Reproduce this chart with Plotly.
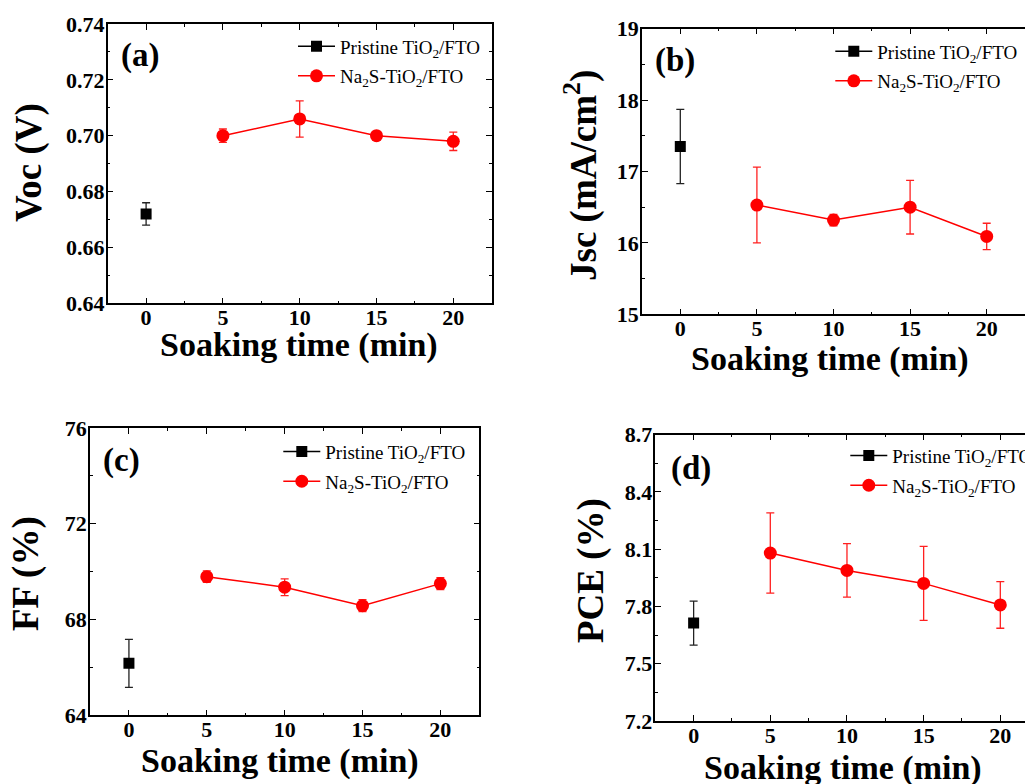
import plotly.graph_objects as go

W, H = 1025, 784

# ---------------- data ----------------
t_pristine = [0]
t_na2s = [5, 10, 15, 20]

voc_pristine = [0.672]
voc_pristine_err = [0.004]
voc_na2s = [0.700, 0.706, 0.700, 0.698]
voc_na2s_err = [0.0024, 0.0065, 0.0012, 0.0033]

jsc_pristine = [17.35]
jsc_pristine_err = [0.52]
jsc_na2s = [16.53, 16.32, 16.50, 16.09]
jsc_na2s_err = [0.53, 0.08, 0.375, 0.185]

ff_pristine = [66.17]
ff_pristine_err = [1.0]
ff_na2s = [69.79, 69.35, 68.58, 69.50]
ff_na2s_err = [0.24, 0.35, 0.25, 0.25]

pce_pristine = [7.713]
pce_pristine_err = [0.115]
pce_na2s = [8.080, 7.989, 7.921, 7.808]
pce_na2s_err = [0.21, 0.14, 0.194, 0.122]

x_ticks = [0, 5, 10, 15, 20]
voc_ticks = [0.64, 0.66, 0.68, 0.70, 0.72, 0.74]
jsc_ticks = [15, 16, 17, 18, 19]
ff_ticks = [64, 68, 72, 76]
pce_ticks = [7.2, 7.5, 7.8, 8.1, 8.4, 8.7]

name_pristine = "Pristine TiO<sub>2</sub>/FTO"
name_na2s = "Na<sub>2</sub>S-TiO<sub>2</sub>/FTO"

FONT = "Liberation Serif"


def px(x):
    return x / W


def py(y):
    return 1 - y / H


# panel geometry in pixels: (left, right, top, bottom)
panels = [
    dict(box=(107.7, 491.7, 24.0, 303.3), xr=[-2.5, 22.5], yr=[0.64, 0.74], ymirror=True,
         yt=voc_ticks, yfmt=".2f", ydt=0.01, pr=voc_pristine, pre=voc_pristine_err,
         na=voc_na2s, nae=voc_na2s_err, ytitle="Voc (V)", ytitle_xy=(29, 163),
         xtitle_xy=(299, 345), label="(a)", label_xy=(139.5, 55), leg=(293, 47.3)),
    dict(box=(642.0, 1025.0, 28.7, 314.3), xr=[-2.5, 22.5], yr=[15, 19], ymirror=False,
         yt=jsc_ticks, yfmt="d", ydt=0.5, pr=jsc_pristine, pre=jsc_pristine_err,
         na=jsc_na2s, nae=jsc_na2s_err, ytitle="Jsc (mA/cm<sup>2</sup>)", ytitle_xy=(581, 176),
         xtitle_xy=(829.5, 359), label="(b)", label_xy=(675, 60), leg=(830.3, 52.3)),
    dict(box=(90.0, 479.3, 428.0, 715.3), xr=[-2.5, 22.5], yr=[64, 76], ymirror=True,
         yt=ff_ticks, yfmt="d", ydt=2, pr=ff_pristine, pre=ff_pristine_err,
         na=ff_na2s, nae=ff_na2s_err, ytitle="FF (%)", ytitle_xy=(26, 574),
         xtitle_xy=(280, 761), label="(c)", label_xy=(121.5, 460), leg=(278.3, 452.7)),
    dict(box=(655.3, 1025.0, 434.7, 721.0), xr=[-2.5, 21.61], yr=[7.2, 8.7], ymirror=False,
         yt=pce_ticks, yfmt=".1f", ydt=0.15, pr=pce_pristine, pre=pce_pristine_err,
         na=pce_na2s, nae=pce_na2s_err, ytitle="PCE (%)", ytitle_xy=(591, 571),
         xtitle_xy=(843, 768), label="(d)", label_xy=(691, 468), leg=(845.3, 456.7)),
]

fig = go.Figure()
layout = dict(
    width=W, height=H,
    margin=dict(l=0, r=0, t=0, b=0, autoexpand=False),
    paper_bgcolor="white", plot_bgcolor="white",
    font=dict(family=FONT, color="black"),
    annotations=[],
)

LEG_DX = 0    # offset from legend box left to line start
LEG_DY = 20   # offset from legend top to first row centre

for i, p in enumerate(panels):
    n = "" if i == 0 else str(i + 1)
    xa, ya = "x" + n, "y" + n
    leg = "legend" + n
    l, r, t, b = p["box"]
    yfmt = p["yfmt"]
    axis_line = dict(showline=True, linecolor="black", linewidth=1.5)
    layout["xaxis" + n] = dict(
        domain=[px(l), px(r)], range=p["xr"], anchor=ya, automargin=False,
        tickmode="array", tickvals=x_ticks, ticktext=[str(v) for v in x_ticks],
        ticks="inside", ticklen=6, tickwidth=1.2, tickcolor="black",
        mirror="allticks", showgrid=False, zeroline=False,
        minor=dict(ticks="inside", ticklen=3, tickwidth=1.2, tickcolor="black", dtick=2.5, tick0=0, showgrid=False),
        tickfont=dict(family=FONT, size=22, weight="bold", color="black"),
        ticklabelstandoff=-6,
        **axis_line,
    )
    layout["yaxis" + n] = dict(
        domain=[py(b), py(t)], range=p["yr"], anchor=xa, automargin=False,
        tickmode="array", tickvals=p["yt"],
        ticktext=[(format(v, yfmt) if yfmt != "d" else str(int(v))) for v in p["yt"]],
        ticks="inside", ticklen=6, tickwidth=1.2, tickcolor="black",
        mirror=("allticks" if p["ymirror"] else False), showgrid=False, zeroline=False,
        minor=dict(ticks="inside", ticklen=3, tickwidth=1.2, tickcolor="black", dtick=p["ydt"], tick0=p["yr"][0], showgrid=False),
        tickfont=dict(family=FONT, size=22, weight="bold", color="black"),
        ticklabelstandoff=-3,
        **axis_line,
    )
    lx, ly = p["leg"]
    layout[leg] = dict(
        x=px(lx - LEG_DX), y=py(ly - LEG_DY), xref="container", yref="container",
        xanchor="left", yanchor="top",
        bgcolor="rgba(0,0,0,0)", borderwidth=0,
        font=dict(family=FONT, size=19, color="black"),
        itemwidth=37, tracegroupgap=2, traceorder="grouped",
    )
    fig.add_trace(go.Scatter(
        x=t_pristine, y=p["pr"], mode="lines+markers", name=name_pristine,
        xaxis=xa, yaxis=ya, legend=leg, legendgroup="p" + n,
        line=dict(color="black", width=1.5),
        marker=dict(symbol="square", size=11, color="black"),
        error_y=dict(type="data", array=p["pre"], visible=True, color="#222222", thickness=1.3, width=4),
    ))
    fig.add_trace(go.Scatter(
        x=t_na2s, y=p["na"], mode="lines+markers", name=name_na2s,
        xaxis=xa, yaxis=ya, legend=leg, legendgroup="n" + n,
        line=dict(color="#ff0000", width=1.5),
        marker=dict(symbol="circle", size=13, color="#ff0000"),
        error_y=dict(type="data", array=p["nae"], visible=True, color="#ff2020", thickness=1.3, width=4),
    ))
    tx, ty = p["ytitle_xy"]
    layout["annotations"].append(dict(
        text="<b>" + p["ytitle"] + "</b>", x=px(tx), y=py(ty), xref="paper", yref="paper",
        xanchor="center", yanchor="middle", textangle=-90, showarrow=False,
        font=dict(family=FONT, size=37, color="black"),
    ))
    tx, ty = p["xtitle_xy"]
    layout["annotations"].append(dict(
        text="<b>Soaking time (min)</b>", x=px(tx), y=py(ty), xref="paper", yref="paper",
        xanchor="center", yanchor="middle", showarrow=False,
        font=dict(family=FONT, size=34, color="black"),
    ))
    tx, ty = p["label_xy"]
    layout["annotations"].append(dict(
        text="<b>" + p["label"] + "</b>", x=px(tx), y=py(ty), xref="paper", yref="paper",
        xanchor="center", yanchor="middle", showarrow=False,
        font=dict(family=FONT, size=33, color="black"),
    ))

fig.update_layout(**layout)
fig.write_html("out.html")
